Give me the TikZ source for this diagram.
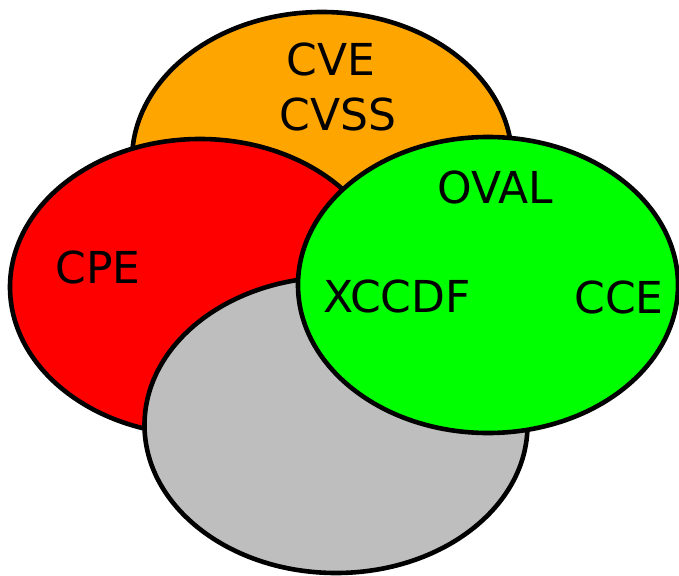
\documentclass[tikz,border=0pt]{standalone}
\usepackage{fontspec}
\setmainfont{DejaVu Sans}
\usetikzlibrary{shapes.geometric}
\definecolor{setorange}{HTML}{FFA500}
\definecolor{setred}{HTML}{FF0000}
\definecolor{setgreen}{HTML}{00FF00}
\definecolor{setgray}{HTML}{BEBEBE}
\tikzset{
  setblob/.style={ellipse, draw=black, line width=4.6pt, inner sep=0pt,
    minimum width=380pt, minimum height=296pt},
  lbl/.style={anchor=base, inner sep=0pt, font=\fontsize{44}{52}\selectfont}
}
\begin{document}
\begin{tikzpicture}[x=1pt,y=-1pt]
\useasboundingbox (0,0) rectangle (679,575);
\node[setblob, fill=setorange] (orange) at (322,160) {};
\node[setblob, fill=setred]    (red)    at (200,287) {};
\node[setblob, fill=setgray, minimum width=383pt]   (gray)   at (336,425) {};
\node[setblob, fill=setgreen]  (green)  at (488,285) {};
\node[lbl] (cve)   at (331,76)  {CVE};
\node[lbl] (cvss)  at (338,130) {CVSS};
\node[lbl] (cpe)   at (98,283)  {CPE};
\node[lbl] (oval)  at (495,203) {OVAL};
\node[lbl] (xccdf) at (397,312) {XCCDF};
\node[lbl] (cce)   at (619,313) {CCE};
\end{tikzpicture}
\end{document}
